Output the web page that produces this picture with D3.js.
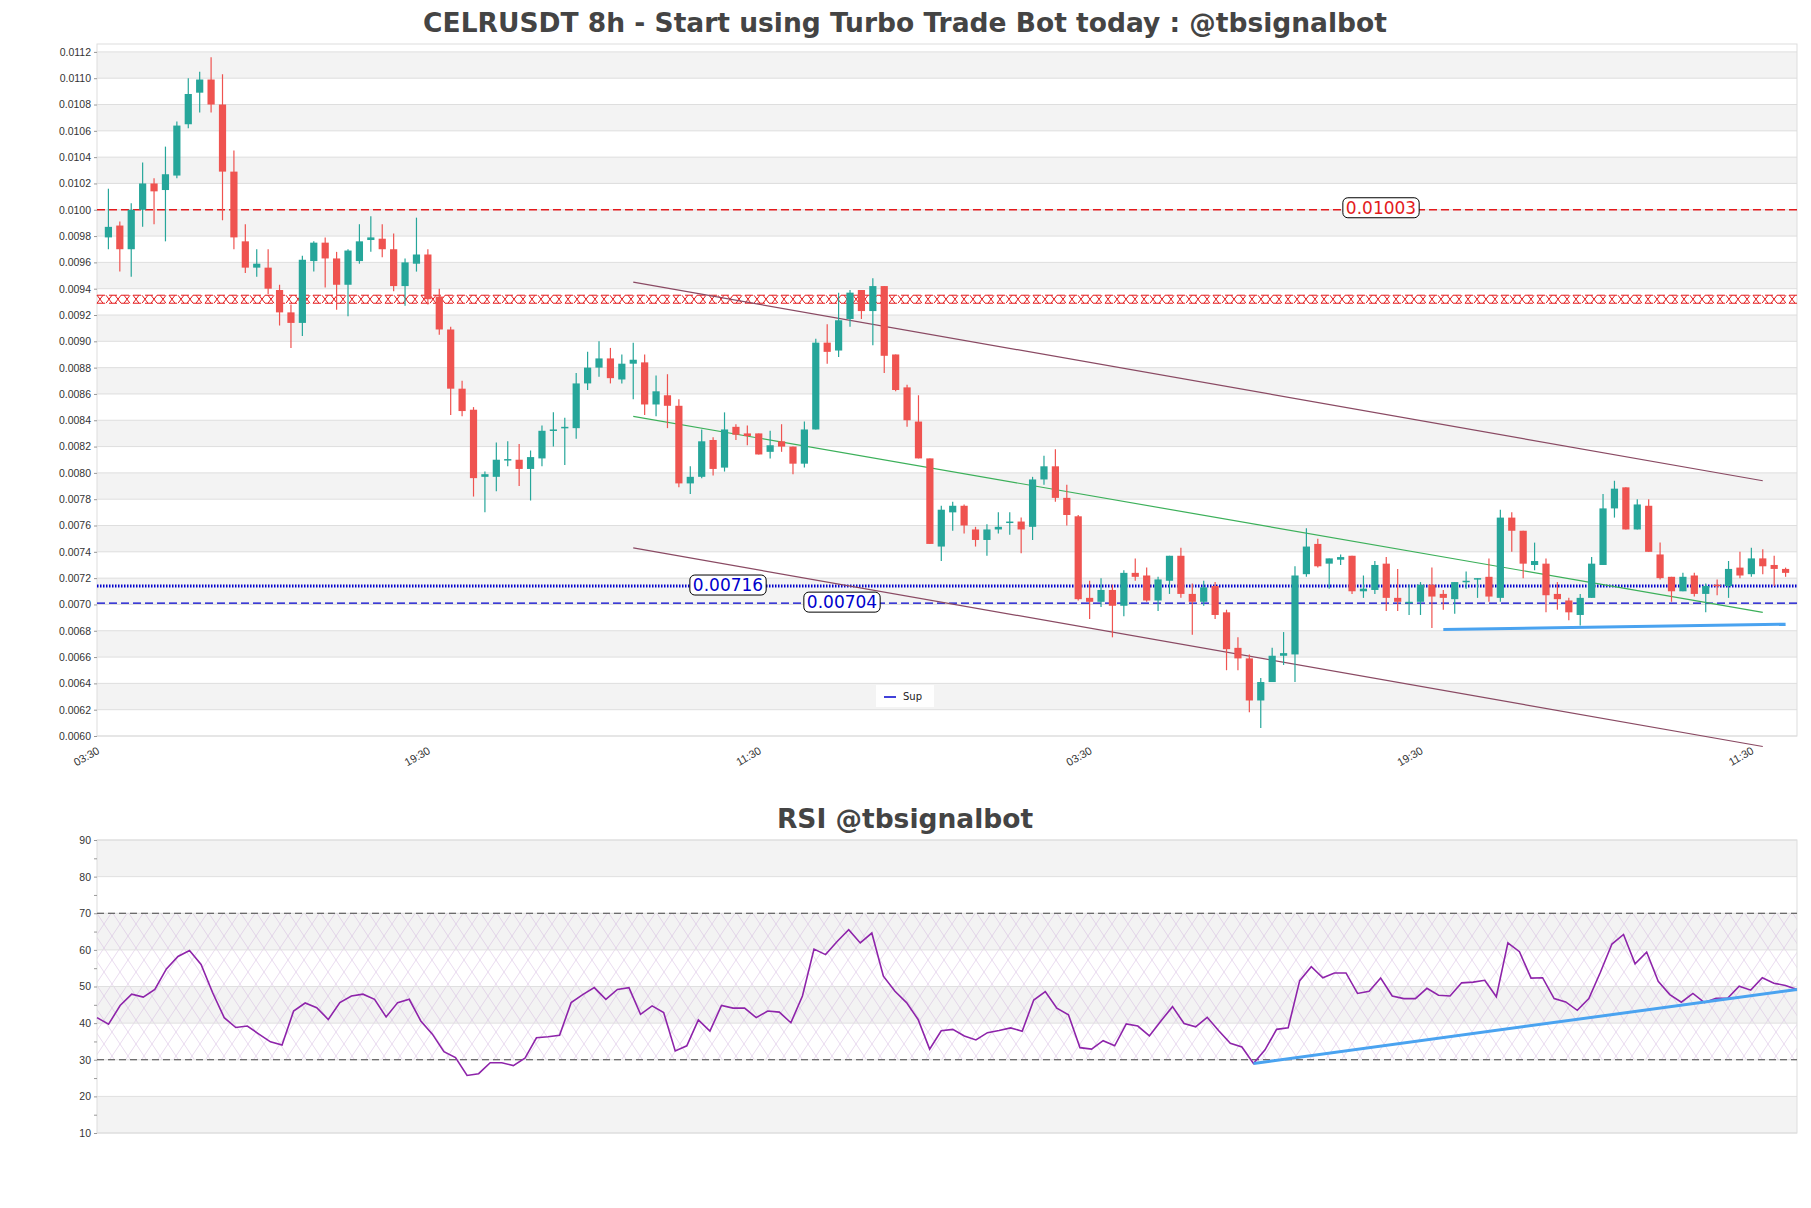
<!DOCTYPE html>
<html><head><meta charset="utf-8">
<script src="https://cdn.jsdelivr.net/npm/d3@7"></script>
<style>body{margin:0;background:#fff}svg{display:block;font-family:"DejaVu Sans",sans-serif}</style>
</head><body><svg id="c" width="1811" height="1208"></svg>
<script>
const opens=[.00979,.00988,.0097,.01,.0102,.01015,.01026,.01065,.01089,.01099,
.0108,.01029,.00976,.00956,.00956,.00939,.00922,.00914,.00961,.00975,
.00963,.00943,.00961,.00977,.00978,.0097,.00942,.00959,.00966,.00934,
.00909,.00864,.00848,.00797,.00797,.008095,.0081,.00803,.00811,.00832,
.00834,.00834,.00868,.0088,.00887,.00871,.00883,.00884,.00852,.00859,
.00851,.00792,.00797,.00825,.00804,.00835,.0083,.0083,.00816,.00824,
.0082,.00807,.00833,.00899,.00893,.00917,.00939,.00923,.00942,.0089,
.00865,.00839,.00811,.00744,.0077,.00775,.00757,.00749,.00757,.00762,
.00763,.00759,.00795,.00805,.00781,.00767,.00705,.00702,.00711,.00699,
.00724,.00722,.00703,.00718,.00737,.00708,.00702,.00714,.00694,.00667,
.00659,.00627,.00641,.00661,.00662,.00723,.00746,.00731,.00734,.00737,
.0071,.00711,.00731,.00705,.00701,.00702,.00715,.00708,.00704,.00717,
.00719,.00721,.00705,.00766,.00756,.0073,.00731,.00708,.00703,.00692,
.00705,.0073,.00773,.00789,.00757,.00775,.00738,.00721,.0071,.00722,
.00708,.00715,.00714,.00728,.00723,.00735,.0073,.00727];
const highs=[.01016,.00991,.01005,.01036,.01024,.01048,.01067,.011,.01105,.01116,
.01103,.01045,.00989,.0097,.0097,.00943,.00928,.00965,.00976,.00979,
.00968,.0097,.00989,.00995,.00989,.00982,.00963,.00994,.0097,.0094,
.00911,.0087,.0085,.00801,.00823,.00824,.00822,.00817,.00836,.00846,
.00842,.00876,.00892,.009,.00895,.0089,.00899,.0089,.00874,.00875,
.00856,.00805,.00833,.00827,.00846,.00837,.00836,.0083,.00832,.00837,
.0082,.00839,.00902,.00913,.00937,.00939,.00939,.00948,.00942,.0089,
.00867,.00859,.00811,.00775,.00778,.00776,.00759,.00761,.0077,.0077,
.00766,.00797,.00813,.00818,.00791,.00768,.00718,.0072,.00715,.00726,
.00735,.00728,.00721,.00737,.00743,.00716,.00718,.00717,.00696,.00675,
.00662,.00644,.00667,.00679,.00729,.00758,.0075,.00735,.00738,.00737,
.00722,.00733,.00736,.00727,.00715,.00717,.00728,.00711,.00717,.00725,
.0072,.00735,.00772,.0077,.00756,.00747,.00735,.00717,.00705,.00708,
.00736,.00784,.00794,.00789,.0078,.0078,.00747,.00721,.00724,.00724,
.00716,.00719,.00733,.0074,.00743,.00742,.00737,.00728];
const lows=[.0097,.00953,.00949,.00987,.00989,.00976,.01024,.01062,.01074,.01074,
.00992,.0097,.00952,.00949,.00936,.00912,.00895,.00904,.00953,.00941,
.00924,.00919,.00959,.00968,.00964,.00938,.00927,.00953,.00928,.00905,
.00844,.00843,.00782,.0077,.00786,.00805,.0079,.00779,.00805,.0082,
.00806,.00826,.00863,.00873,.00868,.00868,.00856,.00844,.00843,.00834,
.00789,.00784,.00796,.00798,.00801,.00825,.00821,.00814,.00811,.00816,
.00799,.00804,.00833,.00883,.00888,.00911,.00917,.00897,.00876,.00862,
.00835,.00811,.00746,.00733,.00756,.00754,.00744,.00737,.00754,.00753,
.00739,.00749,.00791,.00778,.0076,.00703,.00689,.00698,.00675,.00691,
.00718,.00702,.00695,.00708,.00705,.00677,.00699,.00689,.0065,.0065,
.00618,.00606,.00641,.00654,.00641,.00721,.00728,.00712,.0073,.00708,
.00705,.00708,.00695,.00695,.00692,.00692,.00682,.00696,.00693,.00712,
.00705,.00702,.00702,.0074,.0072,.00726,.00694,.00696,.00688,.00684,
.00705,.0073,.00766,.00757,.00757,.0074,.00719,.00702,.0071,.00706,
.00694,.00707,.00705,.0072,.00721,.00723,.00714,.00721];
const closes=[.00987,.0097,.01,.0102,.01014,.01027,.01064,.01088,.01099,.0108,
.01029,.00979,.00956,.00959,.0094,.00922,.00914,.00962,.00975,.00963,
.00943,.00969,.00976,.00979,.0097,.00942,.0096,.00966,.00932,.00909,
.00864,.00847,.00796,.00799,.0081,.008105,.00803,.00812,.00832,.00833,
.00835,.00868,.0088,.00887,.00872,.00883,.00886,.00852,.00862,.00851,
.00792,.00797,.00824,.00803,.00833,.00829,.00828,.00814,.00821,.0082,
.00807,.00833,.00899,.00892,.00916,.00937,.00923,.00942,.00889,.00863,
.0084,.00811,.00746,.00772,.00775,.0076,.00749,.00757,.00759,.00763,
.00757,.00795,.00805,.00781,.00768,.00704,.00702,.00711,.00699,.00724,
.00721,.00703,.00719,.00737,.00708,.00702,.00713,.00692,.00666,.00659,
.00627,.00641,.00661,.00663,.00722,.00744,.00729,.00735,.00736,.0071,
.00712,.0073,.00705,.00702,.00702,.00715,.00706,.00705,.00717,.00718,
.0072,.00706,.00766,.00756,.00731,.00733,.00707,.00704,.00694,.00705,
.00731,.00773,.00788,.00757,.00776,.0074,.0072,.0071,.00721,.00708,
.00714,.00714,.00727,.00722,.00735,.00729,.00727,.00724];
const rsi=[41.5,39.7,44.8,47.9,47.1,49.2,54.8,58.2,59.8,56.0,48.3,41.5,38.8,39.2,37.0,34.9,34.0,43.3,45.5,44.2,
41.0,45.6,47.4,47.9,46.5,41.7,45.6,46.5,40.6,37.0,32.2,30.6,25.7,26.2,29.2,29.2,28.4,30.4,36.0,36.3,
36.7,45.6,47.8,49.7,46.5,49.2,49.7,42.4,44.7,42.9,32.4,33.8,40.9,37.8,44.8,44.1,44.1,41.5,43.3,43.0,
40.1,47.4,60.2,58.7,62.3,65.5,61.9,64.6,52.8,48.7,45.6,41.0,32.9,37.9,38.3,
36.5,35.4,37.4,38.0,38.7,37.8,46.3,48.6,44.1,42.3,33.3,32.9,35.2,33.8,39.8,39.2,36.5,40.6,44.5,39.9,
39.0,41.6,37.9,34.5,33.5,29.0,32.7,38.3,38.7,51.6,55.4,52.4,53.7,53.7,48.1,48.7,52.3,47.4,46.7,46.7,
49.5,47.6,47.4,51.0,51.2,51.7,47.2,61.9,59.5,52.3,52.4,46.7,45.8,43.5,46.7,53.9,61.6,64.2,56.2,59.4,
51.4,47.8,45.7,48.1,45.6,46.8,46.8,50.1,49.0,52.4,50.9,50.3,49.2];
const xTickIdx=[0,29,58,87,116,145];
const xTickLabels=["03:30","19:30","11:30","03:30","19:30","11:30"];
const priceTicks=d3.range(0.0060,0.01121,0.0002);
const rsiTicks=[10,20,30,40,50,60,70,80,90];
const resLevel=0.01000, xLevel=0.00932, supDot=0.00714, supDash=0.00701;
const levelLabels=["0.01003","0.00716","0.00704"];
const upperChan=[[47,0.00945],[146,0.00794]];
const lowerChan=[[47,0.00743],[146,0.00592]];
const greenTrend=[[47,0.00843],[146,0.00694]];
const supLine=[[118,0.00681],[148,0.00685]];
const rsiTrend=[[100,29.0],[147,49.2]];

const svg=d3.select("#c");
const L=97,R=1797;
const x=d3.scaleLinear().domain([0,149]).range([L,R]);
const y=d3.scaleLinear().domain([0.0060,0.01126]).range([736,44]);
const GREEN="#26a69a",RED="#ef5350";
const defs=svg.append("defs");
const g=svg.append("g");
priceTicks.forEach((t,i)=>{ if(i%2===1 && i<priceTicks.length-1){const t2=priceTicks[i+1];
 g.append("rect").attr("x",L).attr("width",R-L).attr("y",y(t2)).attr("height",y(t)-y(t2)).attr("fill","#f3f3f3");}});
priceTicks.forEach(t=>g.append("line").attr("x1",L).attr("x2",R).attr("y1",y(t)).attr("y2",y(t)).attr("stroke","#dedede"));
g.append("rect").attr("x",L).attr("y",44).attr("width",R-L).attr("height",692).attr("fill","none").attr("stroke","#ddd");
const ya=svg.append("g").attr("transform",`translate(${L},0)`).call(d3.axisLeft(y).tickValues(priceTicks).tickFormat(d3.format(".4f")).tickSize(3));
ya.select(".domain").remove();ya.selectAll("line").attr("stroke","#999");
ya.selectAll("text").attr("font-size",10.5).attr("fill","#333");
const xa=svg.append("g").attr("transform","translate(0,736)").call(d3.axisBottom(x).tickValues(xTickIdx).tickFormat((d,i)=>xTickLabels[i]).tickSize(0));
xa.select(".domain").remove();
xa.selectAll("text").attr("font-size",11).attr("fill","#333").attr("text-anchor","end").attr("transform","rotate(-30)").attr("dx","-6").attr("dy","13");
const lv=svg.append("g");
lv.append("line").attr("x1",L).attr("x2",R).attr("y1",y(resLevel)).attr("y2",y(resLevel)).attr("stroke","#e31a1c").attr("stroke-width",1.3).attr("stroke-dasharray","8,4");
{const yy=y(xLevel);let p="";for(let xx=L;xx<R-6;xx+=9){p+=`M${xx},${yy-4}L${xx+6},${yy+4}M${xx},${yy+4}L${xx+6},${yy-4}`;}
lv.append("path").attr("d",p).attr("stroke","#e31a1c").attr("stroke-width",1).attr("fill","none");
[yy-4,yy+4].forEach(v=>lv.append("line").attr("x1",L).attr("x2",R).attr("y1",v).attr("y2",v).attr("stroke","#e31a1c").attr("stroke-width",1).attr("stroke-dasharray","8,4"));}
lv.append("line").attr("x1",L).attr("x2",R).attr("y1",y(supDot)).attr("y2",y(supDot)).attr("stroke","#0000cc").attr("stroke-width",3).attr("stroke-dasharray","1.5,1.5");
lv.append("line").attr("x1",L).attr("x2",R).attr("y1",y(supDash)).attr("y2",y(supDash)).attr("stroke","#0000cc").attr("stroke-width",1.3).attr("stroke-dasharray","8,4");
const ln=d3.line().x(d=>x(d[0])).y(d=>y(d[1]));
svg.append("path").attr("d",ln(upperChan)).attr("stroke","#8a4a63").attr("stroke-width",1.2).attr("fill","none");
svg.append("path").attr("d",ln(lowerChan)).attr("stroke","#8a4a63").attr("stroke-width",1.2).attr("fill","none");
svg.append("path").attr("d",ln(greenTrend)).attr("stroke","#3cb05a").attr("stroke-width",1.2).attr("fill","none");
const cg=svg.append("g");
opens.forEach((o,k)=>{const i=k+1,c=closes[k],col=c>=o?GREEN:RED,cx=x(i);
 cg.append("line").attr("x1",cx).attr("x2",cx).attr("y1",y(highs[k])).attr("y2",y(lows[k])).attr("stroke",col).attr("stroke-width",1.2);
 const top=y(Math.max(o,c)),bot=y(Math.min(o,c));
 cg.append("rect").attr("x",cx-3.6).attr("width",7.2).attr("y",top).attr("height",Math.max(1.5,bot-top)).attr("fill",col);});
svg.append("path").attr("d",ln(supLine)).attr("stroke","#4aa3f0").attr("stroke-width",3).attr("fill","none");
function lab(txt,cx,cy,col){const lg=svg.append("g");const r=lg.append("rect");
 const t=lg.append("text").attr("x",cx).attr("y",cy).attr("text-anchor","middle").attr("dominant-baseline","central").attr("font-size",17).attr("fill",col).text(txt);
 const b=t.node().getBBox();r.attr("x",b.x-3).attr("y",b.y).attr("width",b.width+6).attr("height",b.height).attr("rx",5).attr("fill","#fff").attr("stroke","#000");}
lab(levelLabels[0],1381,y(resLevel)-2,"#e31a1c");
lab(levelLabels[1],728,y(supDot)-1,"#0000cc");
lab(levelLabels[2],842,y(supDash)-1,"#0000cc");
svg.append("rect").attr("x",876).attr("y",685).attr("width",58).attr("height",22).attr("fill","#fff").attr("opacity",0.9);
svg.append("line").attr("x1",884).attr("x2",896).attr("y1",697).attr("y2",697).attr("stroke","#0000cc").attr("stroke-width",1.5);
svg.append("text").attr("x",903).attr("y",700).attr("font-size",10).attr("fill","#222").text("Sup");
svg.append("text").attr("x",905).attr("y",32).attr("text-anchor","middle").attr("font-size",26.5).attr("font-weight","bold").attr("fill","#444").text("CELRUSDT 8h - Start using Turbo Trade Bot today : @tbsignalbot");
svg.append("text").attr("x",905).attr("y",828).attr("text-anchor","middle").attr("font-size",26.5).attr("font-weight","bold").attr("fill","#444").text("RSI @tbsignalbot");
const rx=d3.scaleLinear().domain([0,147]).range([L,R]);
const ry=d3.scaleLinear().domain([10,90]).range([1133,840]);
const pat=defs.append("pattern").attr("id","hatch").attr("patternUnits","userSpaceOnUse").attr("width",16).attr("height",24);
pat.append("path").attr("d","M0,0L16,24M16,0L0,24M-8,12L8,36M8,-12L24,12M-8,12L8,-12M8,36L24,12").attr("stroke","#c9a8d6").attr("stroke-width",0.5).attr("fill","none");
const rg=svg.append("g");
[[80,90],[60,70],[40,50],[10,20]].forEach(b=>rg.append("rect").attr("x",L).attr("width",R-L).attr("y",ry(b[1])).attr("height",ry(b[0])-ry(b[1])).attr("fill","#f3f3f3"));
rg.append("rect").attr("x",L).attr("width",R-L).attr("y",ry(70)).attr("height",ry(30)-ry(70)).attr("fill","url(#hatch)").attr("opacity",0.8);
rsiTicks.forEach(t=>rg.append("line").attr("x1",L).attr("x2",R).attr("y1",ry(t)).attr("y2",ry(t)).attr("stroke","#e0e0e0"));
rg.append("rect").attr("x",L).attr("y",840).attr("width",R-L).attr("height",293).attr("fill","none").attr("stroke","#ddd");
[70,30].forEach(t=>rg.append("line").attr("x1",L).attr("x2",R).attr("y1",ry(t)).attr("y2",ry(t)).attr("stroke","#444").attr("stroke-width",1.2).attr("stroke-dasharray","7,4"));
const ra=svg.append("g").attr("transform",`translate(${L},0)`).call(d3.axisLeft(ry).tickValues(d3.range(10,91,5)).tickFormat(d=>d%10===0?d:"").tickSize(3));
ra.select(".domain").remove();ra.selectAll("line").attr("stroke","#999");ra.selectAll("text").attr("font-size",10.5).attr("fill","#333");
svg.append("path").attr("d",d3.line().x((d,i)=>rx(i)).y(d=>ry(d))(rsi)).attr("stroke","#8e24aa").attr("stroke-width",1.6).attr("fill","none");
svg.append("path").attr("d",d3.line().x(d=>rx(d[0])).y(d=>ry(d[1]))(rsiTrend)).attr("stroke","#4aa3f0").attr("stroke-width",3).attr("fill","none");
</script></body></html>
